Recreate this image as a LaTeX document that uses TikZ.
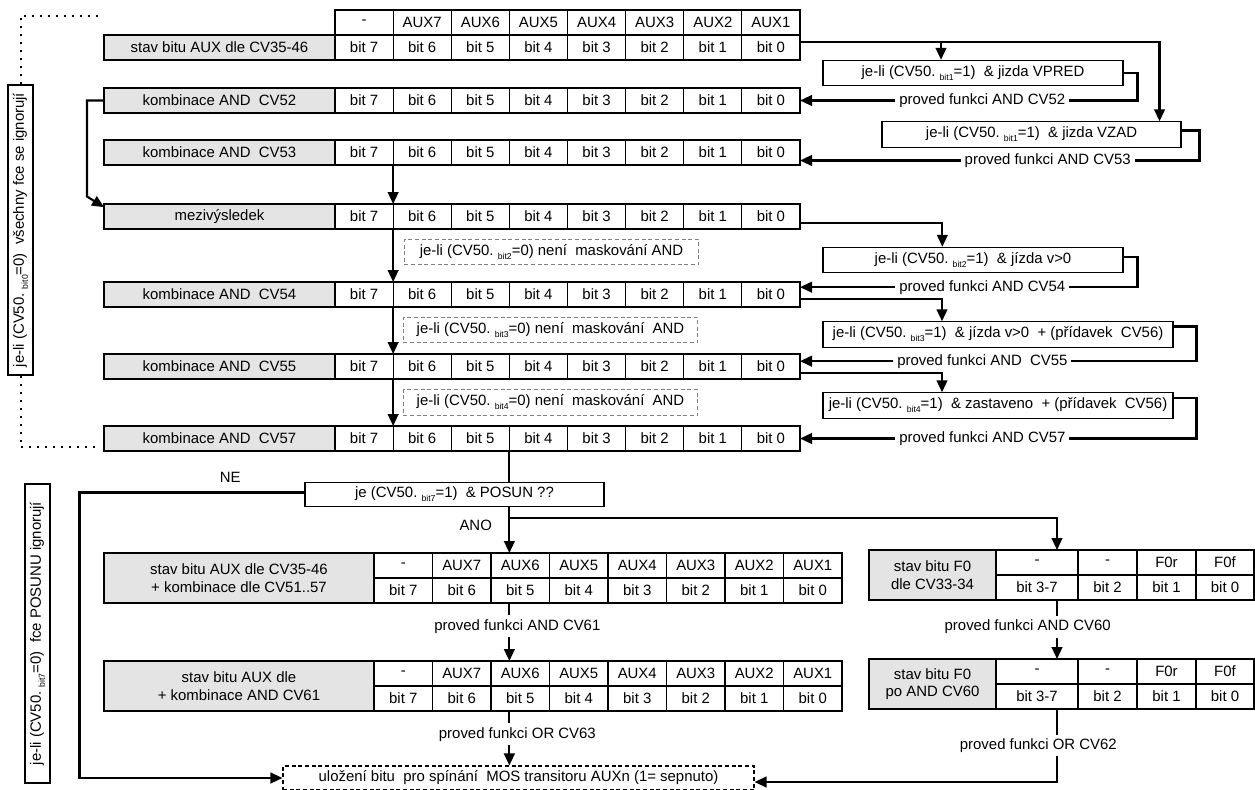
\documentclass[tikz,border=0pt]{standalone}
\usepackage{fontspec}
\setmainfont{Liberation Sans}
\usepackage{xcolor}
\usepackage{tikz}
\usetikzlibrary{arrows.meta,positioning,calc}
\definecolor{LabelGray}{HTML}{E4E4E4}
\definecolor{MaskGray}{HTML}{808080}

\newcommand{\bsub}[1]{\raisebox{-0.5ex}{\fontsize{6.5}{7}\selectfont #1}}
% one row of the top table: name, top edge, label
\newcommand{\bitrow}[3]{%
  \node[lbl, anchor=north west] (#1) at (104,#2) {#3};
  \foreach \b [count=\i from 0] in {7,6,5,4,3,2,1,0}
    \node[cell, anchor=north west] (#1-\b) at ({335+\i*58.125},#2) {bit \b};
}
% two-row AUX table: name, top edge, label
\newcommand{\auxtable}[3]{%
  \node[lbl, anchor=north west, minimum width=202.5pt, minimum height=37.5pt] (#1) at (104,#2) {#3};
  \foreach \t [count=\i from 0] in {-,AUX7,AUX6,AUX5,AUX4,AUX3,AUX2,AUX1}
    \node[cell, anchor=north west, minimum width=43.875pt] (#1h\i) at ({374+\i*58.5},#2) {\t};
  \foreach \b [count=\i from 0] in {7,6,5,4,3,2,1,0}
    \node[cell, anchor=north west, minimum width=43.875pt] (#1-\b) at ({374+\i*58.5},#2+25) {bit \b};
}
% two-row F0 table: name, top edge, label
\newcommand{\fztable}[3]{%
  \node[lbl, anchor=north west, minimum width=95.25pt, minimum height=37.5pt] (#1) at (869,#2) {#3};
  \foreach \hd/\bt/\cx/\cw/\cn in {-/bit 3-7/996/61.5/a, -/bit 2/1078/44.25/b, F0r/bit 1/1137/44.25/c, F0f/bit 0/1196/43.5/d} {
    \node[cell, anchor=north west, minimum width=\cw pt] (#1h\cn) at (\cx,#2) {\hd};
    \node[cell, anchor=north west, minimum width=\cw pt] (#1\cn) at (\cx,#2+25) {\bt};
  }
}

\begin{document}
\begin{tikzpicture}[x=0.75pt, y=-0.75pt, line width=0.8pt,
 every node/.style={font=\fontsize{11.2}{13}\selectfont},
 lbl/.style={draw, fill=LabelGray, inner sep=0pt, outer sep=0pt, minimum width=173.25pt, minimum height=18.75pt, align=center},
 cell/.style={draw, inner sep=0pt, outer sep=0pt, minimum width=43.6pt, minimum height=18.75pt},
 cond/.style={draw, inner sep=0pt, minimum height=19pt},
 mask/.style={draw=MaskGray, dash pattern=on 3pt off 2pt, inner sep=0pt, minimum width=221pt, minimum height=19pt},
 side/.style={draw, rotate=90, inner sep=0pt, minimum height=18.75pt},
 note/.style={fill=white, inner sep=3pt},
 conn/.style={line width=1.6pt},
 arr/.style={-{Triangle[length=9pt,width=8pt]}, line width=1.6pt},
 dotline/.style={line width=1.5pt, dash pattern=on 1.5pt off 4.5pt}]
\path[use as bounding box, fill=white] (0,0) rectangle (1255,789);

% top table
\foreach \t [count=\i from 0] in {-,AUX7,AUX6,AUX5,AUX4,AUX3,AUX2,AUX1}
  \node[cell, anchor=north west] (hd\i) at ({335+\i*58.125},10) {\t};
\bitrow{r1}{35}{stav bitu AUX dle CV35-46}
\bitrow{r2}{88}{kombinace AND\ \ CV52}
\bitrow{r3}{140}{kombinace AND\ \ CV53}
\bitrow{r4}{204}{mezivýsledek}
\bitrow{r5}{282}{kombinace AND\ \ CV54}
\bitrow{r6}{354}{kombinace AND\ \ CV55}
\bitrow{r7}{426}{kombinace AND\ \ CV57}

% conditions
\node[cond, minimum width=225pt] (cA) at (973,73) {je-li (CV50.~\bsub{bit1}=1)\ \ \& jizda VPRED};
\node[cond, minimum width=224.25pt] (cB) at (1031.5,134.5) {je-li (CV50.~\bsub{bit1}=1)\ \ \& jizda VZAD};
\node[cond, minimum width=225pt] (cC) at (973,260) {je-li (CV50.~\bsub{bit2}=1)\ \ \& jízda v>0};
\node[cond, minimum width=262.5pt] (cD) at (998,334.5) {je-li (CV50.~\bsub{bit3}=1)\ \ \& jízda v>0\ \ + (přídavek\ \ CV56)};
\node[cond, minimum width=262.5pt] (cE) at (998,405.5) {je-li (CV50.~\bsub{bit4}=1)\ \ \& zastaveno\ \ + (přídavek\ \ CV56)};

\node[mask] (mA) at (551.5,252) {je-li (CV50.~\bsub{bit2}=0) není\ \ maskování AND};
\node[mask] (mB) at (550.5,330) {je-li (CV50.~\bsub{bit3}=0) není\ \ maskování\ \ AND};
\node[mask] (mC) at (550.5,402.5) {je-li (CV50.~\bsub{bit4}=0) není\ \ maskování\ \ AND};

\node[side, minimum width=217.5pt] (sideA) at (20.5,230) {je-li (CV50.~\bsub{bit0}=0)\ \ všechny fce se ignorují};
\node[side, minimum width=224.25pt] (sideB) at (37.5,633.5) {je-li (CV50.~\bsub{bit7}=0)\ \ fce POSUNU ignorují};

\node[cond, minimum width=224.25pt, minimum height=18.5pt] (dec) at (454.5,494.5) {je (CV50.~\bsub{bit7}=1)\ \ \& POSUN ??};

% bottom tables
\auxtable{b1}{553}{stav bitu AUX dle CV35-46\\+ kombinace dle CV51..57}
\auxtable{b2}{661}{stav bitu AUX dle\\+ kombinace AND CV61}
\fztable{f1}{550}{stav bitu F0\\dle CV33-34}
\fztable{f2}{659}{stav bitu F0\\po AND CV60}

\node[draw, dash pattern=on 3pt off 2pt, inner sep=0pt, minimum width=353.25pt, minimum height=18pt] (store) at (518.5,778) {uložení bitu\ \ pro spínání\ \ MOS transitoru AUXn (1=\ sepnuto)};

\coordinate (spine) at (r7-4.south west);
\coordinate (fspine) at ([xshift=-15.75pt]f1a.south east);
\coordinate (dtop) at (100,16);
\coordinate (dbot) at (100,447);

% top connectors
\draw[arr] ([yshift=4pt]r1-0.east) -| ([xshift=-24pt]cA.north);
\draw[arr] ([yshift=4pt]r1-0.east) -| ([xshift=-16.5pt]cB.north east);
\draw[arr] (cA.east) -- ++(14,0) |- (r2-0.east) node[note, pos=0.73] {proved funkci AND CV52};
\draw[arr] ([yshift=3pt]cB.east) -- ++(18,0) |- ([yshift=-6pt]r3-0.east) node[note, pos=0.69] {proved funkci AND CV53};
\draw[arr] ([yshift=-5pt]r4-0.east) -| ([xshift=-23pt]cC.north);
\draw[arr] ([yshift=2pt]cC.east) -- ++(14,0) |- ([yshift=5.5pt]r5-0.east) node[note, pos=0.73] {proved funkci AND CV54};
\draw[arr] ([yshift=-3.5pt]r5-0.east) -| ([xshift=-42pt]cD.north);
\draw[arr] ([yshift=6pt]cD.east) -- ++(23,0) |- ([yshift=4pt]r6-0.east) node[note, pos=0.77] {proved funkci AND\ \ CV55};
\draw[arr] ([yshift=-5pt]r6-0.east) -| ([xshift=-42pt]cE.north);
\draw[arr] ([yshift=5.5pt]cE.east) -- ++(23,0) |- (r7-0.east) node[note, pos=0.77] {proved funkci AND CV57};

\draw[arr] (r2.west) -- ++(-17,0) -- ++(0,96) -- ([yshift=7pt]r4.west);
\draw[arr] (r3-6.south west) -- (r4-6.north west);
\draw[arr] (r4-6.south west) -- (r5-6.north west);
\draw[arr] (r5-6.south west) -- (r6-6.north west);
\draw[arr] (r6-6.south west) -- (r7-6.north west);

\draw[dotline] (sideA.east) |- (dtop);
\draw[dotline] (sideA.west) |- (dbot);

% decision
\draw[conn] (spine) -- (spine |- dec.north);
\draw[arr] ([yshift=1.5pt]dec.west) -- node[above=3pt, pos=0.33] {NE} ++(-225,0) |- (store.west);
\draw[arr] (spine |- dec.south) -- node[left=9pt, pos=0.4] {ANO} (spine |- b1h2.north);
\coordinate (split) at ($(spine |- dec.south)+(0,11)$);
\draw[arr] (split) -| (fspine |- f1ha.north);

% bottom connectors
\draw[arr] (spine |- b1-5.south) -- node[note, pos=0.4, xshift=6pt] {proved funkci AND CV61} (spine |- b2h2.north);
\draw[arr] (spine |- b2-5.south) -- node[note, pos=0.43, xshift=6pt] {proved funkci OR CV63} (spine |- store.north);
\draw[arr] (fspine |- f1a.south) -- node[note, pos=0.45, xshift=-22pt] {proved funkci AND CV60} (fspine |- f2ha.north);
\draw[arr] (fspine |- f2a.south) |- ([yshift=-3pt]store.east) node[note, pos=0.25, xshift=-14pt] {proved funkci OR CV62};
\end{tikzpicture}
\end{document}
